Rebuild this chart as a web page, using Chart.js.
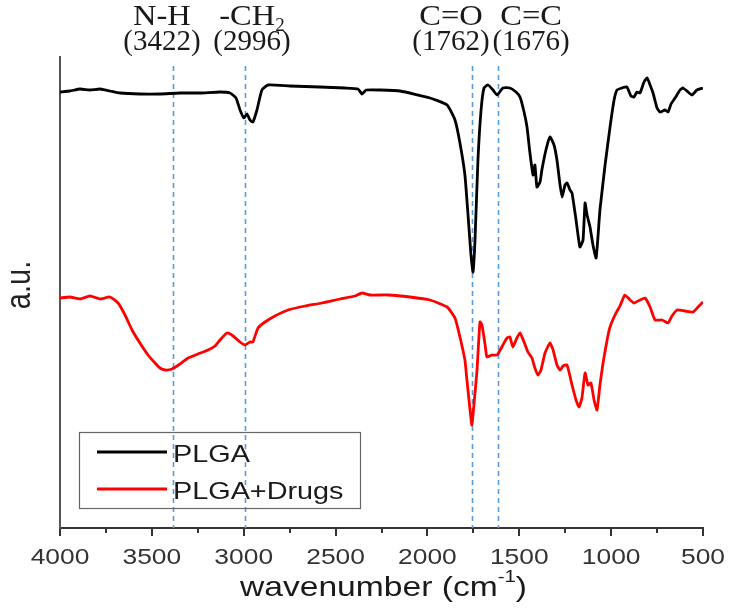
<!DOCTYPE html>
<html>
<head>
<meta charset="utf-8">
<script src="https://cdn.jsdelivr.net/npm/chart.js@4.4.1/dist/chart.umd.min.js"></script>
<style>
  html, body { margin: 0; padding: 0; background: #fff; }
  #wrap { width: 735px; height: 616px; }
</style>
</head>
<body>
<div id="wrap"><canvas id="my-chart" width="735" height="616"></canvas></div>
<script>
// FTIR spectra, values (a.u., offset stacked)
const plgaWavenumber = [4000, 3946, 3891, 3837, 3782, 3728, 3673, 3565, 3456, 3347, 3238, 3129, 3075, 3042, 3020, 2999, 2982, 2966, 2950, 2928, 2901, 2868, 2748, 2585, 2449, 2378, 2356, 2334, 2258, 2149, 1986, 1893, 1850, 1823, 1796, 1779, 1763, 1752, 1741, 1725, 1708, 1692, 1670, 1643, 1621, 1589, 1551, 1518, 1496, 1474, 1458, 1442, 1425, 1415, 1404, 1387, 1377, 1355, 1333, 1311, 1295, 1278, 1267, 1251, 1240, 1224, 1213, 1191, 1170, 1153, 1142, 1131, 1115, 1099, 1082, 1071, 1061, 1033, 1006, 984, 968, 941, 914, 892, 876, 859, 843, 821, 804, 788, 772, 750, 734, 707, 690, 674, 652, 625, 609, 581, 560, 533, 500];
const plgaValues = [436, 437, 439, 438, 439, 437, 435, 434, 434, 435, 435, 436, 435, 430, 418, 410, 414, 408, 406, 418, 438, 443, 442, 441, 440, 439, 434, 438, 438, 437, 430, 423, 408, 385, 353, 313, 273, 256, 288, 368, 418, 440, 443, 438, 433, 440, 440, 436, 431, 416, 401, 375, 353, 363, 341, 346, 358, 378, 391, 383, 368, 343, 331, 343, 345, 338, 335, 308, 281, 288, 325, 313, 301, 283, 270, 293, 318, 363, 401, 428, 438, 440, 441, 432, 431, 436, 435, 446, 450, 443, 435, 420, 416, 418, 416, 424, 430, 438, 440, 436, 433, 438, 440];

const drugWavenumber = [4000, 3946, 3891, 3837, 3782, 3728, 3684, 3646, 3608, 3565, 3521, 3483, 3456, 3428, 3390, 3347, 3303, 3249, 3194, 3156, 3129, 3091, 3058, 3020, 2993, 2966, 2950, 2922, 2884, 2830, 2759, 2666, 2574, 2476, 2394, 2356, 2313, 2215, 2095, 1986, 1893, 1850, 1823, 1796, 1785, 1768, 1758, 1747, 1730, 1714, 1703, 1686, 1676, 1649, 1621, 1589, 1567, 1551, 1535, 1513, 1496, 1474, 1453, 1431, 1415, 1398, 1382, 1360, 1333, 1316, 1295, 1278, 1262, 1240, 1213, 1191, 1175, 1159, 1142, 1126, 1110, 1093, 1077, 1061, 1044, 1022, 1006, 979, 952, 925, 897, 876, 843, 816, 788, 761, 723, 690, 669, 641, 598, 554, 527, 500];
const drugValues = [230, 231, 229, 232, 229, 231, 225, 213, 198, 185, 173, 165, 160, 158, 159, 164, 170, 174, 178, 182, 188, 195, 192, 186, 183, 186, 186, 200, 206, 212, 218, 222, 225, 229, 232, 235, 233, 233, 231, 228, 221, 210, 191, 168, 148, 118, 103, 123, 158, 206, 203, 183, 171, 173, 173, 183, 190, 191, 181, 190, 195, 186, 176, 170, 160, 153, 158, 175, 185, 178, 163, 158, 162, 163, 143, 128, 121, 130, 155, 143, 145, 128, 118, 143, 165, 188, 201, 213, 222, 233, 228, 225, 228, 230, 221, 208, 208, 205, 212, 218, 217, 216, 221, 226];

const seriesNames = ['PLGA', 'PLGA+Drugs'];
const seriesColors = ['#000000', '#ff0000'];

// marker lines and their labels
const peakLines = [3385, 2995, 1757, 1617];
const peakGroups = ['N-H', '-CH', 'C=O', 'C=C'];
const peakNumbers = ['(3422)', '(2996)', '(1762)', '(1676)'];
const peakLabelAt = [3445, 2955, 1872, 1436];

const xTicks = [4000, 3500, 3000, 2500, 2000, 1500, 1000, 500];
const xMinorTicks = [3750, 3250, 2750, 2250, 1750, 1250, 750];

// the original picture is a bit wider than tall
const SX = 1.2;

function stretchText(ctx, text, x, y, font, sx, align) {
  ctx.save();
  ctx.font = font;
  const w = ctx.measureText(text).width * sx;
  let left = x;
  if (align === 'center') left = x - w / 2;
  ctx.translate(left, y);
  ctx.scale(sx, 1);
  ctx.textAlign = 'left';
  ctx.fillText(text, 0, 0);
  ctx.restore();
  return w;
}

const overlay = {
  id: 'overlay',
  beforeDatasetsDraw(chart) {
    const ctx = chart.ctx;
    const x = chart.scales.x;
    const area = chart.chartArea;
    ctx.save();
    ctx.strokeStyle = '#5b9bd5';
    ctx.lineWidth = 1.6;
    ctx.setLineDash([5, 4]);
    peakLines.forEach(w => {
      const px = Math.round(x.getPixelForValue(w)) + 0.5;
      ctx.beginPath();
      ctx.moveTo(px, 66);
      ctx.lineTo(px, area.bottom);
      ctx.stroke();
    });
    ctx.restore();
  },
  afterDraw(chart) {
    const ctx = chart.ctx;
    const x = chart.scales.x;
    const area = chart.chartArea;
    ctx.save();

    // peak labels
    ctx.fillStyle = '#1a1a1a';
    ctx.textBaseline = 'alphabetic';
    const serif = '29px "Liberation Serif"';
    peakGroups.forEach((g, i) => {
      const cx = x.getPixelForValue(peakLabelAt[i]);
      if (g === '-CH') {
        ctx.font = serif;
        const w1 = ctx.measureText(g).width * 1.12;
        ctx.font = '19px "Liberation Serif"';
        const w2 = ctx.measureText('2').width;
        const left = cx - (w1 + w2) / 2;
        stretchText(ctx, g, left, 25, serif, 1.12, 'left');
        stretchText(ctx, '2', left + w1, 31, '19px "Liberation Serif"', 1, 'left');
      } else {
        stretchText(ctx, g, cx, 25, serif, 1.12, 'center');
      }
      stretchText(ctx, peakNumbers[i], cx, 50, serif, 1, 'center');
    });

    // x tick labels and minor ticks
    ctx.fillStyle = '#333';
    xTicks.forEach(v => {
      stretchText(ctx, String(v), x.getPixelForValue(v), 564, '22px "Liberation Sans"', SX, 'center');
    });
    ctx.strokeStyle = '#333';
    ctx.lineWidth = 2;
    xMinorTicks.forEach(v => {
      const px = Math.round(x.getPixelForValue(v));
      ctx.beginPath();
      ctx.moveTo(px, area.bottom);
      ctx.lineTo(px, area.bottom + 5);
      ctx.stroke();
    });

    // x title
    ctx.fillStyle = '#1a1a1a';
    const tFont = '28px "Liberation Sans"';
    ctx.font = tFont;
    const main = 'wavenumber (cm';
    const wMain = ctx.measureText(main).width * SX;
    ctx.font = '17px "Liberation Sans"';
    const wSup = ctx.measureText('-1').width * SX;
    ctx.font = tFont;
    const wEnd = ctx.measureText(')').width * SX;
    const tLeft = (area.left + area.right) / 2 - (wMain + wSup + wEnd) / 2 + 2;
    stretchText(ctx, main, tLeft, 596, tFont, SX, 'left');
    stretchText(ctx, '-1', tLeft + wMain, 582, '17px "Liberation Sans"', SX, 'left');
    stretchText(ctx, ')', tLeft + wMain + wSup, 596, tFont, SX, 'left');

    // y title
    ctx.save();
    ctx.translate(30, 285);
    ctx.rotate(-Math.PI / 2);
    ctx.fillStyle = '#222';
    ctx.font = '29px "Liberation Sans"';
    ctx.scale(1, SX);
    ctx.textAlign = 'center';
    ctx.fillText('a.u.', 0, 0);
    ctx.restore();

    // legend box
    ctx.strokeStyle = '#666';
    ctx.lineWidth = 1.2;
    ctx.strokeRect(79.5, 432.5, 281, 76);
    ctx.fillStyle = '#1a1a1a';
    seriesNames.forEach((name, i) => {
      const ly = 452 + i * 37;
      ctx.strokeStyle = seriesColors[i];
      ctx.lineWidth = 3;
      ctx.beginPath();
      ctx.moveTo(97, ly);
      ctx.lineTo(167, ly);
      ctx.stroke();
      stretchText(ctx, name, 173, ly + 10, '24px "Liberation Sans"', SX, 'left');
    });
    ctx.restore();
  }
};

const ctx = document.getElementById('my-chart').getContext('2d');
const chart = new Chart(ctx, {
  type: 'line',
  data: {
    datasets: [
      {
        label: seriesNames[0],
        data: plgaWavenumber.map((w, i) => ({ x: w, y: plgaValues[i] })),
        borderColor: seriesColors[0],
        borderWidth: 2.8,
        pointRadius: 0,
        tension: 0.15
      },
      {
        label: seriesNames[1],
        data: drugWavenumber.map((w, i) => ({ x: w, y: drugValues[i] })),
        borderColor: seriesColors[1],
        borderWidth: 2.8,
        pointRadius: 0,
        tension: 0.15
      }
    ]
  },
  options: {
    responsive: false,
    animation: false,
    layout: { padding: { top: 57, right: 32, left: 0, bottom: 0 } },
    plugins: { legend: { display: false }, tooltip: { enabled: false } },
    scales: {
      x: {
        type: 'linear',
        reverse: true,
        min: 500,
        max: 4000,
        afterFit: s => { s.height = 88; },
        afterBuildTicks: s => { s.ticks = xTicks.map(v => ({ value: v })); },
        border: { display: true, color: '#333', width: 2 },
        grid: { drawOnChartArea: false, drawTicks: true, tickLength: 8, color: '#333', lineWidth: 2 },
        ticks: { autoSkip: false, maxRotation: 0, callback: () => '' }
      },
      y: {
        min: 0,
        max: 471,
        afterFit: s => { s.width = 60; },
        border: { display: true, color: '#555', width: 2 },
        grid: { display: false },
        ticks: { display: false }
      }
    }
  },
  plugins: [overlay]
});
</script>
</body>
</html>
